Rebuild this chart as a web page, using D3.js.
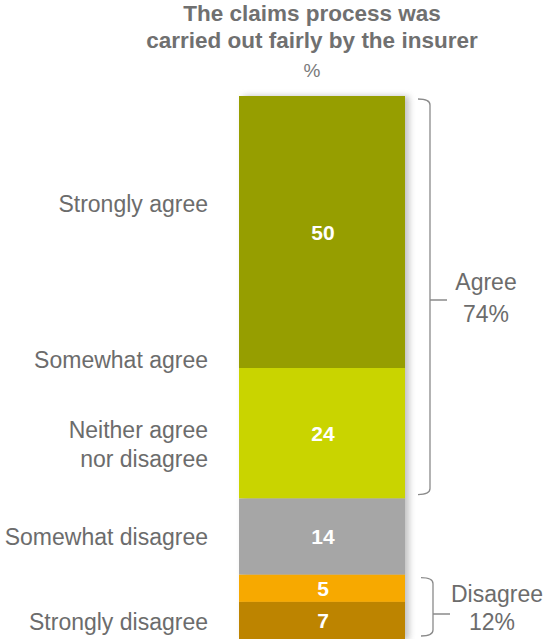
<!DOCTYPE html>
<html><head><meta charset="utf-8">
<script src="https://cdn.jsdelivr.net/npm/d3@7"></script>
<style>body{margin:0;background:#fff}svg{display:block}text{font-family:"Liberation Sans",Arial,sans-serif}</style>
</head><body><svg id="c" width="544" height="639"></svg>
<script>
const titleLines = ["The claims process was", "carried out fairly by the insurer"];
const unitLabel = "%";
const segValues = [50, 24, 14, 5, 7];
const segColors = ["#969e00", "#c9d400", "#a6a6a6", "#f7a900", "#bd8400"];
const catLabels = [["Strongly agree"], ["Somewhat agree"], ["Neither agree", "nor disagree"], ["Somewhat disagree"], ["Strongly disagree"]];
const groupNames = ["Agree", "Disagree"];
const groupTotals = [74, 12];
const groupRanges = [[0, 74], [88, 100]];

const svg = d3.select("#c");
const y = d3.scaleLinear().domain([0, 100]).range([96, 640]);
const barX = 239, barW = 166;
const txt = "#6c6c6c";

// title
svg.selectAll("text.title").data(titleLines).join("text")
  .attr("x", 312).attr("y", (d, i) => 21 + i * 27).attr("text-anchor", "middle")
  .attr("font-size", 22.5).attr("font-weight", "bold").attr("fill", "#707070").text(d => d);
svg.append("text").attr("x", 312).attr("y", 77).attr("text-anchor", "middle")
  .attr("font-size", 19).attr("fill", "#7a7a7a").text(unitLabel);

// shadow
const defs = svg.append("defs");
defs.append("filter").attr("id", "sh").attr("x", "-10%").attr("width", "130%")
  .append("feGaussianBlur").attr("stdDeviation", 3);
svg.append("rect").attr("x", barX + 4).attr("y", y(0)).attr("width", barW)
  .attr("height", y(100) - y(0)).attr("fill", "#999").attr("opacity", 0.6).attr("filter", "url(#sh)");

const cum = [];
segValues.reduce((a, v, i) => { cum[i] = a; return a + v; }, 0);

svg.selectAll("rect.seg").data(segValues).join("rect").attr("class", "seg")
  .attr("x", barX).attr("width", barW)
  .attr("y", (d, i) => y(cum[i])).attr("height", d => y(d) - y(0))
  .attr("fill", (d, i) => segColors[i]);

svg.selectAll("text.val").data(segValues).join("text").attr("class", "val")
  .attr("x", barX + barW / 2 + 1).attr("y", (d, i) => y(cum[i] + d / 2) + 7.5)
  .attr("text-anchor", "middle").attr("font-size", 21).attr("font-weight", "bold")
  .attr("fill", "#fff").text(d => d);

// category labels (positioned as in the reference)
const labelY = [212, 368, 438, 545, 630];
catLabels.forEach((lines, i) => {
  lines.forEach((t, j) => {
    svg.append("text").attr("x", 208).attr("y", labelY[i] + j * 29)
      .attr("text-anchor", "end").attr("font-size", 23).attr("fill", txt).text(t);
  });
});

// brackets
const bx = [430, 433];
const labelPos = [[486, 290], [497, 602]];
groupRanges.forEach((r, i) => {
  const y0 = y(r[0]) + 3, y1 = y(r[1]) - 4, ym = i === 0 ? 300 : 614;
  const x = bx[i];
  svg.append("path").attr("fill", "none").attr("stroke", "#8a8a8a").attr("stroke-width", 1.3)
    .attr("d", `M${x - 12},${y0} Q${x},${y0} ${x},${y0 + 6} L${x},${y1 - 6} Q${x},${y1} ${x - 12},${y1} M${x},${ym} L${x + 17},${ym}`);
  const [tx, ty] = labelPos[i];
  svg.append("text").attr("x", tx).attr("y", ty).attr("text-anchor", "middle")
    .attr("font-size", 23).attr("fill", txt).text(groupNames[i]);
  svg.append("text").attr("x", i === 0 ? tx : tx - 5).attr("y", ty + (i === 0 ? 32 : 28)).attr("text-anchor", "middle")
    .attr("font-size", 23).attr("fill", txt).text(groupTotals[i] + "%");
});
</script></body></html>
